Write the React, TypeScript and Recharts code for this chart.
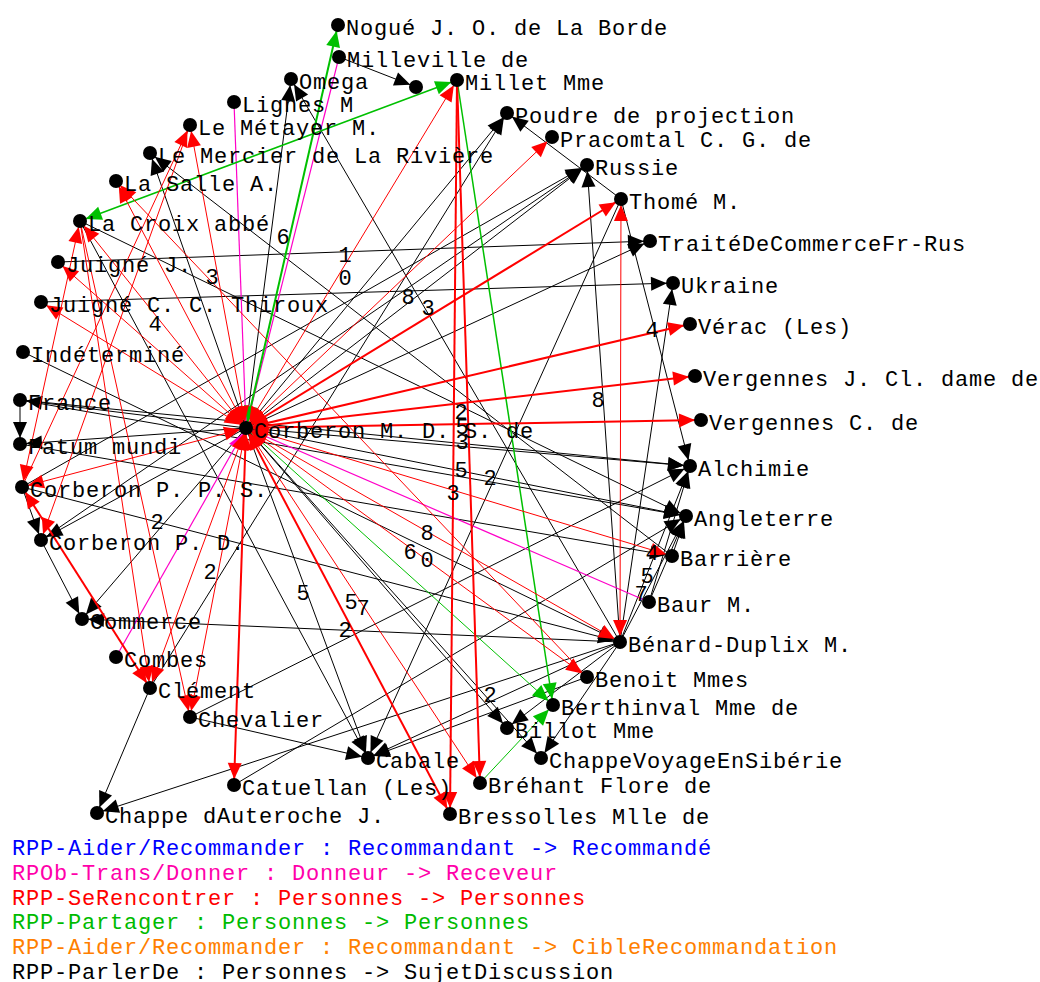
import React from "react";
import { ScatterChart, Scatter, XAxis, YAxis, ReferenceLine } from "recharts";

const FONT = "'Liberation Mono', 'DejaVu Sans Mono', monospace";

// node id, label, x, y (layout position in the picture)
const nodes: [string, string, number, number][] = [
  ["nogue", "Nogué J. O. de La Borde", 338, 25],
  ["millev", "Milleville de", 339, 57],
  ["omega", "Omega", 291, 79],
  ["o", "", 416, 87],
  ["millet", "Millet Mme", 457, 80],
  ["lignes", "Lignes M", 234, 102],
  ["poudre", "Poudre de projection", 507, 113],
  ["metayer", "Le Métayer M.", 190, 125],
  ["pracomtal", "Pracomtal C. G. de", 552, 137],
  ["mercier", "Le Mercier de La Rivière", 150, 153],
  ["russie", "Russie", 587, 165],
  ["lasalle", "La Salle A.", 116, 181],
  ["thome", "Thomé M.", 621, 199],
  ["lacroix", "La Croix abbé", 80, 221],
  ["traite", "TraitéDeCommerceFr-Rus", 650, 241],
  ["juignej", "Juigné J.", 58, 262],
  ["ukraine", "Ukraine", 673, 283],
  ["juignec", "Juigné C. C. Thiroux", 41, 302],
  ["verac", "Vérac (Les)", 690, 324],
  ["indet", "Indéterminé", 23, 352],
  ["vergj", "Vergennes J. Cl. dame de", 695, 376],
  ["france", "France", 20, 400],
  ["vergc", "Vergennes C. de", 701, 420],
  ["fatum", "Fatum mundi", 20, 444],
  ["hub", "Corberon M. D. S. de", 246, 428],
  ["alchimie", "Alchimie", 690, 466],
  ["corbpps", "Corberon P. P. S.", 22, 487],
  ["angleterre", "Angleterre", 686, 516],
  ["corbpd", "Corberon P. D.", 41, 540],
  ["barriere", "Barrière", 672, 556],
  ["baur", "Baur M.", 649, 602],
  ["commerce", "Commerce", 82, 619],
  ["benard", "Bénard-Duplix M.", 620, 642],
  ["combes", "Combes", 116, 657],
  ["benoit", "Benoit Mmes", 587, 677],
  ["clement", "Clément", 150, 688],
  ["berthinval", "Berthinval Mme de", 553, 705],
  ["chevalier", "Chevalier", 190, 717],
  ["billot", "Billot Mme", 507, 728],
  ["cabale", "Cabale", 368, 758],
  ["chappev", "ChappeVoyageEnSibérie", 541, 758],
  ["catuellan", "Catuellan (Les)", 234, 785],
  ["brehant", "Bréhant Flore de", 480, 783],
  ["chapped", "Chappe dAuteroche J.", 97, 813],
  ["bressolles", "Bressolles Mlle de", 450, 814],
];

// from, to, stroke width, arrow at both ends
type Edge = [string, string, number, boolean];

const seRencontrer: Edge[] = [
  ["hub", "millet", 1, true],
  ["hub", "metayer", 1, true],
  ["hub", "lasalle", 1, true],
  ["hub", "lacroix", 1, true],
  ["hub", "juignej", 1, true],
  ["hub", "juignec", 1, true],
  ["hub", "corbpps", 1, true],
  ["hub", "pracomtal", 1, true],
  ["hub", "thome", 2, true],
  ["hub", "verac", 2, true],
  ["hub", "vergj", 2, true],
  ["hub", "vergc", 2, true],
  ["hub", "barriere", 1, true],
  ["hub", "benard", 1, true],
  ["hub", "benoit", 1, true],
  ["hub", "brehant", 1, true],
  ["hub", "bressolles", 2, true],
  ["hub", "catuellan", 2, true],
  ["hub", "chevalier", 1, true],
  ["hub", "clement", 1, true],
  ["millet", "bressolles", 2, false],
  ["millet", "brehant", 2, false],
  ["thome", "benard", 1, true],
  ["corbpps", "clement", 2, true],
  ["lacroix", "corbpps", 1, true],
  ["lacroix", "clement", 1, false],
  ["lacroix", "chevalier", 1, false],
  ["corbpps", "metayer", 1, false],
  ["metayer", "corbpd", 1, false],
  ["benoit", "lasalle", 1, false],
];

const partager: Edge[] = [
  ["hub", "nogue", 2, true],
  ["millet", "lacroix", 1.5, true],
  ["millet", "berthinval", 1.5, false],
  ["hub", "berthinval", 1, false],
  ["brehant", "berthinval", 1, false],
];

const donner: Edge[] = [
  ["lignes", "hub", 1.2, false],
  ["millev", "hub", 1.2, false],
  ["combes", "hub", 1.2, false],
  ["baur", "hub", 1.2, false],
];

const parlerDe: Edge[] = [
  ["hub", "omega", 1, false],
  ["hub", "poudre", 1, false],
  ["hub", "russie", 1, false],
  ["hub", "traite", 1, false],
  ["hub", "alchimie", 1, false],
  ["hub", "angleterre", 1, false],
  ["hub", "cabale", 1, false],
  ["hub", "chappev", 1, false],
  ["hub", "billot", 1, false],
  ["hub", "commerce", 1, false],
  ["hub", "corbpd", 1, false],
  ["hub", "france", 1, false],
  ["hub", "fatum", 1, false],
  ["hub", "mercier", 1, false],
  ["benard", "alchimie", 1, false],
  ["benard", "angleterre", 1, false],
  ["benard", "russie", 1, false],
  ["benard", "ukraine", 1, false],
  ["benard", "commerce", 1, false],
  ["benard", "cabale", 1, false],
  ["benard", "chappev", 1, false],
  ["benard", "chapped", 1, false],
  ["benard", "omega", 1, false],
  ["benard", "billot", 1, false],
  ["baur", "angleterre", 1, false],
  ["baur", "alchimie", 1, false],
  ["barriere", "angleterre", 1, false],
  ["thome", "cabale", 1, false],
  ["thome", "alchimie", 1, false],
  ["thome", "poudre", 1, false],
  ["millev", "o", 1, false],
  ["barriere", "mercier", 1, false],
  ["lacroix", "cabale", 1, false],
  ["chevalier", "alchimie", 1, false],
  ["chevalier", "cabale", 1, false],
  ["catuellan", "angleterre", 1, false],
  ["clement", "chapped", 1, false],
  ["clement", "poudre", 1, false],
  ["france", "alchimie", 1, false],
  ["france", "angleterre", 1, false],
  ["corbpd", "russie", 1, false],
  ["corbpps", "russie", 1, false],
  ["juignec", "ukraine", 1, false],
  ["juignej", "traite", 1, false],
  ["corbpps", "corbpd", 1, false],
  ["corbpd", "commerce", 1, false],
  ["france", "fatum", 1, false],
  ["indet", "benard", 1, false],
  ["corbpps", "benard", 1, false],
  ["fatum", "barriere", 1, false],
  ["lacroix", "angleterre", 1, false],
  ["benoit", "cabale", 1, false],
];

// edge weights written along the links
const weightLabels: [string, number, number][] = [
  ["6", 283, 237], ["1", 345, 255], ["0", 345, 278], ["3", 212, 277],
  ["4", 155, 324], ["8", 408, 297], ["3", 428, 308], ["2", 461, 412],
  ["5", 462, 427], ["3", 462, 442], ["5", 461, 470], ["2", 490, 478],
  ["3", 453, 493], ["8", 598, 400], ["4", 652, 330], ["2", 157, 522],
  ["2", 210, 572], ["5", 303, 593], ["5", 351, 602], ["7", 363, 608],
  ["2", 345, 630], ["8", 427, 533], ["6", 410, 552], ["0", 427, 560],
  ["4", 652, 553], ["5", 647, 576], ["7", 641, 594], ["2", 490, 695],
];

const legendLines: [string, string][] = [
  ["RPP-Aider/Recommander : Recommandant -> Recommandé", "#0000ff"],
  ["RPOb-Trans/Donner : Donneur -> Receveur", "#ff00aa"],
  ["RPP-SeRencontrer : Personnes -> Personnes", "#ff0000"],
  ["RPP-Partager : Personnes -> Personnes", "#00bb00"],
  ["RPP-Aider/Recommander : Recommandant -> CibleRecommandation", "#ff7f00"],
  ["RPP-ParlerDe : Personnes -> SujetDiscussion", "#000000"],
];

const nodeData = nodes.map(([id, name, x, y]) => ({ id, name, x, y }));
const pos: Record<string, { x: number; y: number }> = {};
nodeData.forEach((n) => (pos[n.id] = { x: n.x, y: n.y }));
const weightData = weightLabels.map(([text, x, y]) => ({ text, x, y }));

const groups: { edges: Edge[]; color: string }[] = [
  { edges: parlerDe, color: "#000000" },
  { edges: donner, color: "#ff00c8" },
  { edges: partager, color: "#00c000" },
  { edges: seRencontrer, color: "#ff0000" },
];

function arrowHead(tx: number, ty: number, ux: number, uy: number) {
  const px = tx - ux * 6;
  const py = ty - uy * 6;
  const bx = px - ux * 16;
  const by = py - uy * 16;
  const nx = -uy * 7;
  const ny = ux * 7;
  return `${px},${py} ${bx + nx},${by + ny} ${bx - nx},${by - ny}`;
}

function edgeShape(color: string, width: number, both: boolean) {
  return (p: any) => {
    const { x1, y1, x2, y2 } = p;
    const len = Math.hypot(x2 - x1, y2 - y1) || 1;
    const ux = (x2 - x1) / len;
    const uy = (y2 - y1) / len;
    return (
      <g>
        <line x1={x1} y1={y1} x2={x2} y2={y2} stroke={color} strokeWidth={width} />
        <polygon points={arrowHead(x2, y2, ux, uy)} fill={color} />
        {both && <polygon points={arrowHead(x1, y1, -ux, -uy)} fill={color} />}
      </g>
    );
  };
}

const NodeShape = (p: any) => (
  <g>
    <circle cx={p.cx} cy={p.cy} r={7} fill="#000" />
    <text x={p.cx + 8} y={p.cy + 10} fontFamily={FONT} fontSize={22} letterSpacing={0.8} fill="#000">
      {p.payload.name}
    </text>
  </g>
);

const WeightShape = (p: any) => (
  <text x={p.cx} y={p.cy + 7} textAnchor="middle" fontFamily={FONT} fontSize={22} fill="#000">
    {p.payload.text}
  </text>
);

export default function App() {
  return (
    <div style={{ position: "absolute", left: 0, top: 0, width: 1040, height: 982, background: "#fff" }}>
      <ScatterChart width={1040} height={982} margin={{ top: 0, right: 0, bottom: 0, left: 0 }}>
        <XAxis type="number" dataKey="x" domain={[0, 1040]} hide />
        <YAxis type="number" dataKey="y" domain={[0, 982]} reversed hide />
        <Scatter data={nodeData} shape={NodeShape} isAnimationActive={false} />
        {groups.map((g) =>
          g.edges.map(([from, to, w, both], i) => (
            <ReferenceLine
              key={g.color + i}
              segment={[pos[from], pos[to]]}
              ifOverflow="visible"
              shape={edgeShape(g.color, w, both)}
            />
          ))
        )}
        <Scatter data={weightData} shape={WeightShape} isAnimationActive={false} />
      </ScatterChart>
      <svg width={1040} height={982} style={{ position: "absolute", left: 0, top: 0, pointerEvents: "none" }}>
        {legendLines.map(([text, color], i) => (
          <text key={i} x={12} y={855 + i * 24.8} fontFamily={FONT} fontSize={22} letterSpacing={0.8} fill={color}>
            {text}
          </text>
        ))}
      </svg>
    </div>
  );
}
